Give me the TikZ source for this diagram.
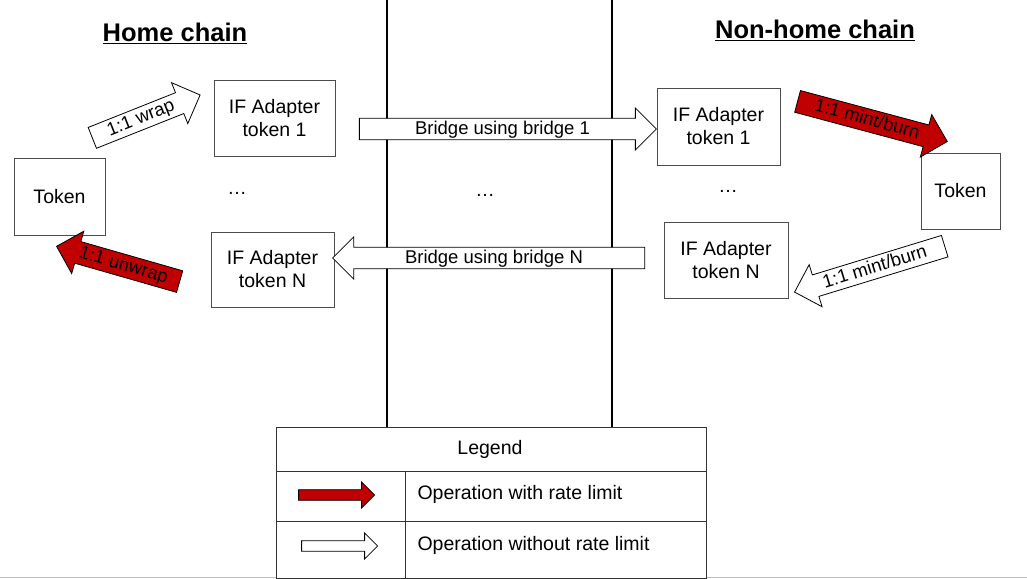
\documentclass[tikz,border=0pt]{standalone}
\usepackage{fontspec}
\setmainfont{Liberation Sans}
\usetikzlibrary{shapes.arrows}
\definecolor{rl}{HTML}{C00000}
\begin{document}
\begin{tikzpicture}[x=1pt,y=-1pt,
  box/.style={draw=black!70,line width=0.6pt,fill=white,align=center,font=\fontsize{19.5}{23}\selectfont,inner sep=0pt},
  arr/.style={single arrow,draw=black,line width=0.8pt,single arrow head extend=10pt,inner ysep=2pt,inner xsep=2pt,font=\fontsize{18.5}{20}\selectfont,minimum width=44pt,text height=13pt,text depth=3pt},
  red/.style={arr,fill=rl},
  wht/.style={arr,fill=white},
  title/.style={font=\bfseries\fontsize{25.5}{30}\selectfont},
  lbl/.style={font=\fontsize{19.5}{23}\selectfont}]
\useasboundingbox (0,0) rectangle (1027,578);
\draw[black!25] (0,577) -- (1027,577);
\node[title] (h) at (175,33) {\underline{Home chain}};
\node[title] (nh) at (815,30) {\underline{Non-home chain}};
\draw[line width=2.2pt] (387,0) coordinate (a1) -- (387,428) coordinate (a2);
\draw[line width=2.2pt] (612,0) coordinate (b1) -- (612,428) coordinate (b2);
\node[box,minimum width=91pt,minimum height=77pt] (tl) at (59.5,196.5) {Token};
\node[box,minimum width=121pt,minimum height=76pt] (a1l) at (274.5,118) {IF Adapter\\token 1};
\node[box,minimum width=123pt,minimum height=75pt] (anl) at (272.5,269.5) {IF Adapter\\token N};
\node[box,minimum width=123pt,minimum height=77pt] (a1r) at (718.5,126.5) {IF Adapter\\token 1};
\node[box,minimum width=124pt,minimum height=76pt] (anr) at (726,260) {IF Adapter\\token N};
\node[box,minimum width=79pt,minimum height=76pt] (tr) at (960.5,191) {Token};
\node[lbl] (d1) at (237,193) {\dots};
\node[lbl] (d2) at (485,195) {\dots};
\node[lbl] (d3) at (728,191) {\dots};
\node[wht,minimum height=297pt,minimum width=42pt,inner ysep=2pt] (b1a) at (502.5,129) {Bridge using bridge 1};
\node[wht,minimum height=312pt,minimum width=42pt,inner ysep=2pt,shape border rotate=180] (bna) at (494,258) {Bridge using bridge N};
\node[wht,minimum height=116pt,rotate=21.7] (w) at (141,118.5) {1:1 wrap};
\node[red,minimum height=128pt,rotate=-16,shape border rotate=180] (uw) at (123.5,265.5) {1:1 unwrap};
\node[red,minimum height=155pt,rotate=-15] (mb1) at (867,120) {1:1 mint/burn};
\node[wht,minimum height=157pt,rotate=17,shape border rotate=180] (mb2) at (875,267.5) {1:1 mint/burn};
\draw[black!80,line width=0.8pt,fill=white] (276,427) rectangle (706,578);
\draw[black!80,line width=0.8pt] (276,471) -- (706,471) (276,521) -- (706,521) (405,471) -- (405,578);
\node[lbl] (lg) at (490,449) {Legend};
\node[red,minimum height=76pt,minimum width=26pt,single arrow head extend=5pt,inner ysep=3pt,text height=0pt,text depth=0pt] (lr) at (334,495) {};
\node[wht,minimum height=76pt,minimum width=26pt,single arrow head extend=5pt,inner ysep=3pt,text height=0pt,text depth=0pt] (lw) at (337,546) {};
\node[lbl,anchor=west] (t1) at (414,494) {Operation with rate limit};
\node[lbl,anchor=west] (t2) at (414,545) {Operation without rate limit};
\end{tikzpicture}
\end{document}
